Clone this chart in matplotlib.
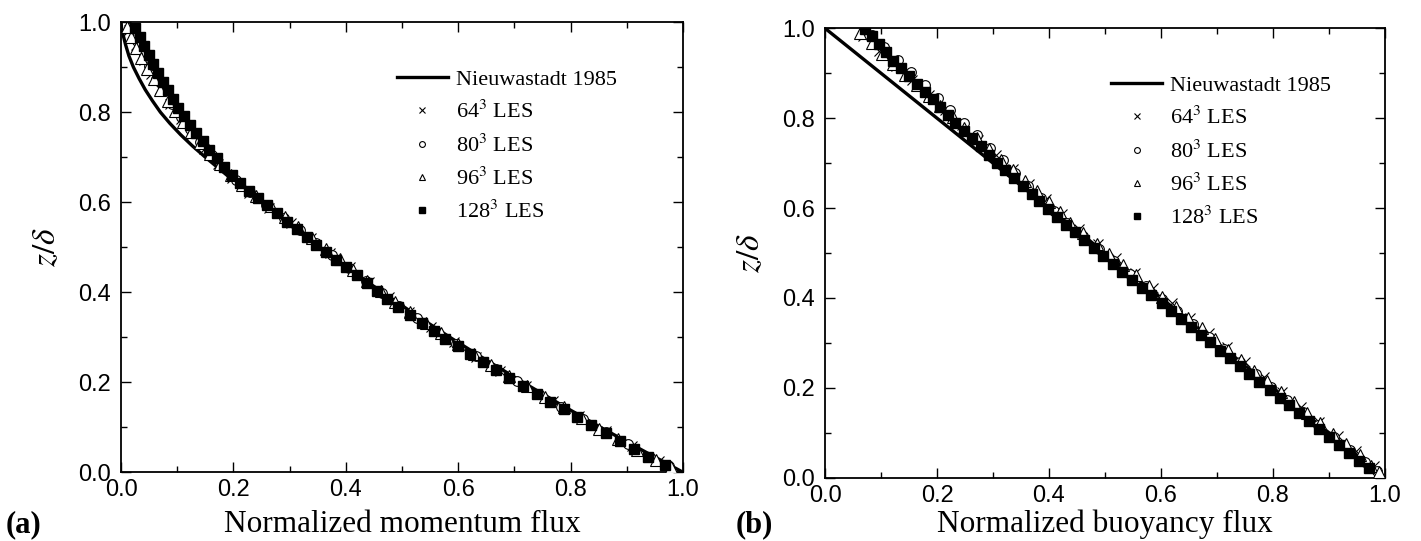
"""
Flux profiles: LES vs Nieuwstadt 1985
two panels, momentum flux (a) and buoyancy flux (b)
"""
import matplotlib
matplotlib.use('Agg')
import matplotlib.pyplot as plt
from matplotlib.ticker import MultipleLocator

plt.rcParams['font.family'] = ['Liberation Serif', 'DejaVu Serif']
plt.rcParams['mathtext.fontset'] = 'stix'

# ---- panel (a): momentum flux ----
nieu_a_z = [1.0, 0.985, 0.97, 0.95, 0.925, 0.9, 0.875, 0.85, 0.825, 0.8, 0.775, 0.75,
            0.725, 0.7, 0.65, 0.6, 0.55, 0.5, 0.45, 0.4, 0.35, 0.3, 0.25, 0.2, 0.15,
            0.1, 0.05, 0.0]
nieu_a_x = [0.0, 0.001, 0.004, 0.008, 0.014, 0.022, 0.032, 0.043, 0.056, 0.070, 0.087, 0.106,
            0.127, 0.150, 0.198, 0.250, 0.300, 0.352, 0.407, 0.465, 0.524, 0.585, 0.649,
            0.715, 0.783, 0.853, 0.926, 1.0]

les64_a_z = [0.983, 0.950, 0.917, 0.884, 0.851, 0.818, 0.785, 0.752, 0.719, 0.686,
             0.653, 0.620, 0.587, 0.554, 0.521, 0.488, 0.455, 0.422, 0.389, 0.356,
             0.323, 0.290, 0.257, 0.224, 0.191, 0.158, 0.125, 0.092, 0.059, 0.026]
les64_a_x = [0.014, 0.026, 0.040, 0.053, 0.069, 0.087, 0.106, 0.126, 0.148, 0.172,
             0.198, 0.228, 0.264, 0.302, 0.338, 0.372, 0.407, 0.442, 0.477, 0.513,
             0.552, 0.592, 0.632, 0.675, 0.721, 0.768, 0.815, 0.862, 0.909, 0.957]

les80_a_z = [0.986, 0.958, 0.930, 0.902, 0.874, 0.846, 0.818, 0.790, 0.762, 0.734,
             0.706, 0.678, 0.650, 0.622, 0.594, 0.566, 0.538, 0.510, 0.482, 0.454,
             0.426, 0.398, 0.370, 0.342, 0.314, 0.286, 0.258, 0.230, 0.202, 0.174,
             0.146, 0.118, 0.090, 0.062, 0.034, 0.014]
les80_a_x = [0.016, 0.029, 0.040, 0.050, 0.062, 0.076, 0.091, 0.106, 0.123, 0.141,
             0.161, 0.182, 0.205, 0.230, 0.258, 0.290, 0.318, 0.346, 0.375, 0.405,
             0.435, 0.464, 0.495, 0.527, 0.561, 0.596, 0.631, 0.667, 0.705, 0.744,
             0.783, 0.822, 0.862, 0.902, 0.941, 0.975]

les96_a_z = [0.990, 0.967, 0.943, 0.920, 0.896, 0.873, 0.849, 0.826, 0.802, 0.779,
             0.755, 0.732, 0.708, 0.685, 0.661, 0.638, 0.614, 0.591, 0.567, 0.544,
             0.520, 0.497, 0.473, 0.450, 0.426, 0.403, 0.379, 0.356, 0.332, 0.309,
             0.285, 0.262, 0.238, 0.215, 0.191, 0.168, 0.144, 0.121, 0.097, 0.074,
             0.050, 0.027, 0.012]
les96_a_x = [0.010, 0.018, 0.027, 0.036, 0.047, 0.058, 0.070, 0.083, 0.096, 0.110,
             0.125, 0.141, 0.158, 0.176, 0.196, 0.216, 0.240, 0.266, 0.291, 0.315,
             0.339, 0.364, 0.389, 0.413, 0.438, 0.462, 0.488, 0.514, 0.542, 0.570,
             0.599, 0.628, 0.659, 0.690, 0.722, 0.755, 0.788, 0.820, 0.851, 0.884,
             0.918, 0.952, 0.978]

les128_a_z = [0.987, 0.966, 0.946, 0.926, 0.906, 0.887, 0.868, 0.849, 0.829, 0.810,
              0.791, 0.772, 0.754, 0.735, 0.716, 0.698, 0.679, 0.661, 0.643, 0.625,
              0.609, 0.594, 0.576, 0.557, 0.540, 0.523, 0.506, 0.489, 0.472, 0.455,
              0.438, 0.420, 0.402, 0.385, 0.368, 0.350, 0.332, 0.315, 0.297, 0.280,
              0.262, 0.244, 0.227, 0.209, 0.192, 0.175, 0.157, 0.140, 0.122, 0.104,
              0.087, 0.069, 0.052, 0.035, 0.017]
les128_a_x = [0.025, 0.033, 0.041, 0.049, 0.057, 0.065, 0.074, 0.083, 0.093, 0.102,
              0.112, 0.123, 0.134, 0.145, 0.157, 0.170, 0.183, 0.197, 0.212, 0.227,
              0.243, 0.259, 0.277, 0.296, 0.313, 0.330, 0.347, 0.365, 0.383, 0.401,
              0.419, 0.437, 0.455, 0.474, 0.493, 0.514, 0.535, 0.556, 0.577, 0.599,
              0.621, 0.644, 0.667, 0.691, 0.715, 0.740, 0.764, 0.788, 0.812, 0.837,
              0.862, 0.887, 0.912, 0.938, 0.968]

# ---- panel (b): buoyancy flux ----
nieu_b_z = [1.0, 0.0]
nieu_b_x = [0.0, 1.0]

les64_b_z = les64_a_z
les64_b_x = [0.068, 0.097, 0.127, 0.156, 0.185, 0.214, 0.244, 0.274, 0.305, 0.335,
             0.365, 0.395, 0.424, 0.454, 0.487, 0.520, 0.553, 0.586, 0.619, 0.652,
             0.685, 0.718, 0.751, 0.784, 0.817, 0.850, 0.883, 0.916, 0.949, 0.980]

les80_b_z = les80_a_z
les80_b_x = [0.083, 0.106, 0.130, 0.154, 0.178, 0.201, 0.224, 0.248, 0.271, 0.294,
             0.317, 0.340, 0.363, 0.386, 0.409, 0.433, 0.461, 0.489, 0.517, 0.545,
             0.573, 0.601, 0.629, 0.657, 0.685, 0.713, 0.741, 0.769, 0.797, 0.825,
             0.853, 0.881, 0.909, 0.937, 0.965, 0.985]

les96_b_z = les96_a_z
les96_b_x = [0.063, 0.083, 0.102, 0.122, 0.143, 0.164, 0.185, 0.206, 0.228, 0.249,
             0.271, 0.293, 0.314, 0.336, 0.357, 0.378, 0.400, 0.420, 0.438, 0.461,
             0.485, 0.508, 0.532, 0.555, 0.579, 0.602, 0.626, 0.649, 0.673, 0.696,
             0.720, 0.743, 0.767, 0.790, 0.814, 0.837, 0.861, 0.884, 0.908, 0.931,
             0.955, 0.976, 0.990]

les128_b_z = [0.998, 0.983, 0.965, 0.947, 0.928, 0.911, 0.894, 0.876, 0.859, 0.842,
              0.824, 0.806, 0.789, 0.772, 0.756, 0.737, 0.719, 0.701, 0.684, 0.667,
              0.650, 0.632, 0.615, 0.598, 0.581, 0.563, 0.546, 0.528, 0.511, 0.493,
              0.476, 0.458, 0.441, 0.423, 0.406, 0.388, 0.371, 0.353, 0.336, 0.318,
              0.301, 0.283, 0.266, 0.248, 0.231, 0.213, 0.196, 0.178, 0.161, 0.143,
              0.126, 0.108, 0.091, 0.073, 0.056, 0.038, 0.021]
les128_b_x = [0.071, 0.083, 0.096, 0.109, 0.122, 0.136, 0.150, 0.164, 0.178, 0.192,
              0.205, 0.219, 0.232, 0.248, 0.263, 0.278, 0.293, 0.308, 0.322, 0.338,
              0.353, 0.369, 0.383, 0.399, 0.414, 0.430, 0.446, 0.463, 0.480, 0.497,
              0.514, 0.531, 0.548, 0.566, 0.583, 0.601, 0.618, 0.636, 0.653, 0.671,
              0.688, 0.706, 0.723, 0.741, 0.758, 0.776, 0.794, 0.812, 0.829, 0.847,
              0.865, 0.883, 0.900, 0.918, 0.936, 0.954, 0.972]

series_labels = ['Nieuwastadt 1985', r'64$^3$ LES', r'80$^3$ LES', r'96$^3$ LES', r'128$^3$ LES']
tick_font = ['Liberation Sans', 'DejaVu Sans']

fig = plt.figure(figsize=(14.21, 5.41), dpi=100)
ax_a = fig.add_axes([0.0852, 0.127, 0.3955, 0.832])
ax_b = fig.add_axes([0.5806, 0.117, 0.394, 0.8307])


def draw_panel(ax, nz, nx, d64, d80, d96, d128, xlabel, xlabel_pad, leg_anchor):
    ax.plot(nx, nz, color='black', lw=2.4, label=series_labels[0], zorder=3)
    ax.plot(d64[1], d64[0], ls='none', marker='x', ms=7, mew=0.8, color='black',
            label=series_labels[1], zorder=4)
    ax.plot(d80[1], d80[0], ls='none', marker='o', ms=7, mew=0.8, mfc='white', mec='black',
            label=series_labels[2], zorder=4)
    ax.plot(d96[1], d96[0], ls='none', marker='^', ms=8, mew=0.8, mfc='white', mec='black',
            label=series_labels[3], zorder=4)
    ax.plot(d128[1], d128[0], ls='none', marker='s', ms=7, color='black',
            label=series_labels[4], zorder=5)
    ax.set_xlim(0, 1)
    ax.set_ylim(0, 1)
    ax.xaxis.set_major_locator(MultipleLocator(0.2))
    ax.yaxis.set_major_locator(MultipleLocator(0.2))
    ax.xaxis.set_minor_locator(MultipleLocator(0.1))
    ax.yaxis.set_minor_locator(MultipleLocator(0.1))
    ax.tick_params(which='both', direction='in', top=True, right=True, width=1.0)
    ax.tick_params(which='major', length=7, labelsize=17)
    ax.tick_params(axis='y', which='major', pad=7)
    ax.tick_params(axis='x', which='major', pad=5)
    ax.tick_params(which='minor', length=4)
    for lab in ax.get_xticklabels() + ax.get_yticklabels():
        lab.set_family(tick_font)
    for s in ax.spines.values():
        s.set_linewidth(1.3)
    ax.set_xlabel(xlabel, fontsize=22.5, labelpad=xlabel_pad)
    ax.set_ylabel(r'$z/\delta$', fontsize=24, labelpad=12)
    leg = ax.legend(loc='upper left', bbox_to_anchor=leg_anchor, frameon=False,
                    fontsize=16, handlelength=2.3, handletextpad=0.35,
                    labelspacing=0.5, borderaxespad=0, markerscale=0.6)
    return leg


draw_panel(ax_a, nieu_a_z, nieu_a_x,
           (les64_a_z, les64_a_x), (les80_a_z, les80_a_x),
           (les96_a_z, les96_a_x), (les128_a_z, les128_a_x),
           'Normalized momentum flux', 6, (0.475, 0.915))
draw_panel(ax_b, nieu_b_z, nieu_b_x,
           (les64_b_z, les64_b_x), (les80_b_z, les80_b_x),
           (les96_b_z, les96_b_x), (les128_b_z, les128_b_x),
           'Normalized buoyancy flux', 2, (0.495, 0.915))

fig.text(0.004, 0.016, '(a)', fontsize=22, fontweight='bold', ha='left', va='baseline')
fig.text(0.518, 0.016, '(b)', fontsize=22, fontweight='bold', ha='left', va='baseline')

fig.savefig('out.png', dpi=100)
plt.close(fig)
